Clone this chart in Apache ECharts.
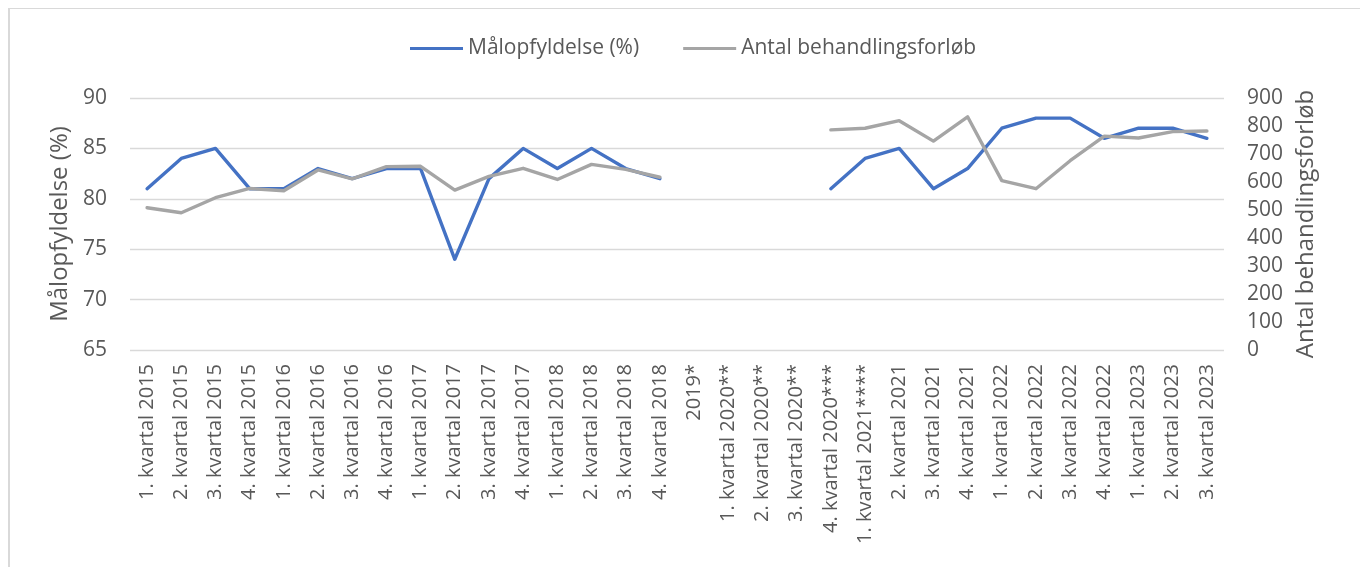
<!DOCTYPE html>
<html>
<head>
    <meta charset="utf-8">
    <script src="https://cdn.jsdelivr.net/npm/echarts@6/dist/echarts.min.js"></script>
    <style>
        html, body { margin: 0; padding: 0; background: #fff; }
        #frame {
            position: absolute;
            left: 8px;
            top: 8px;
            width: 1400px;
            height: 600px;
            border-left: 2px solid #d9d9d9;
            border-top: 1px solid #d9d9d9;
        }
        #main {
            position: absolute;
            left: 0;
            top: 0;
            width: 1360px;
            height: 567px;
        }
    </style>
</head>
<body>
<div id="frame"></div>
<div id="main"></div>
<script>
    // Kategorier (kvartaler)
    var categories = [
        '1. kvartal 2015', '2. kvartal 2015', '3. kvartal 2015', '4. kvartal 2015',
        '1. kvartal 2016', '2. kvartal 2016', '3. kvartal 2016', '4. kvartal 2016',
        '1. kvartal 2017', '2. kvartal 2017', '3. kvartal 2017', '4. kvartal 2017',
        '1. kvartal 2018', '2. kvartal 2018', '3. kvartal 2018', '4. kvartal 2018',
        '2019*',
        '1. kvartal 2020**', '2. kvartal 2020**', '3. kvartal 2020**', '4. kvartal 2020***',
        '1. kvartal 2021****', '2. kvartal 2021', '3. kvartal 2021', '4. kvartal 2021',
        '1. kvartal 2022', '2. kvartal 2022', '3. kvartal 2022', '4. kvartal 2022',
        '1. kvartal 2023', '2. kvartal 2023', '3. kvartal 2023'
    ];

    // Målopfyldelse (%) - venstre akse
    var malopfyldelse = [
        81, 84, 85, 81,
        81, 83, 82, 83,
        83, 74, 82, 85,
        83, 85, 83, 82,
        null,
        null, null, null, 81,
        84, 85, 81, 83,
        87, 88, 88, 86,
        87, 87, 86
    ];

    // Antal behandlingsforløb - højre akse
    var antalForlob = [
        508, 490, 544, 577,
        569, 643, 611, 655,
        656, 571, 620, 649,
        609, 663, 645, 617,
        null,
        null, null, null, 786,
        792, 819, 746, 833,
        605, 576, 676, 764,
        757, 780, 782
    ];

    var leftTicks = { min: 65, max: 90, interval: 5 };
    var rightTicks = { min: 0, max: 900, interval: 100 };

    var FONT = '"Open Sans"';
    var TXT = '#595959';

    var chart = echarts.init(document.getElementById('main'), null, { renderer: 'canvas' });

    var option = {
        backgroundColor: 'transparent',
        animation: false,
        textStyle: { fontFamily: FONT, color: TXT },
        legend: {
            top: 33,
            left: 405,
            itemWidth: 53,
            itemHeight: 3,
            itemGap: 44,
            icon: 'rect',
            textStyle: { fontFamily: FONT, fontSize: 21, color: TXT },
            data: ['Målopfyldelse (%)', 'Antal behandlingsforløb']
        },
        grid: {
            left: 130,
            right: 136,
            top: 98,
            bottom: 217,
            containLabel: false
        },
        xAxis: {
            type: 'category',
            data: categories,
            boundaryGap: true,
            axisLine: { show: false },
            axisTick: { show: false },
            axisLabel: {
                interval: 0,
                rotate: 90,
                margin: 14,
                fontFamily: FONT,
                fontSize: 20,
                color: TXT
            }
        },
        yAxis: [
            {
                type: 'value',
                min: leftTicks.min,
                max: leftTicks.max,
                interval: leftTicks.interval,
                name: 'Målopfyldelse (%)',
                nameLocation: 'middle',
                nameRotate: 90,
                nameGap: 56,
                nameTextStyle: { fontFamily: FONT, fontSize: 24, color: TXT },
                axisLine: { show: false },
                axisTick: { show: false },
                axisLabel: { fontFamily: FONT, fontSize: 21, color: TXT, margin: 23 },
                splitLine: { lineStyle: { color: '#d9d9d9', width: 1.3 } }
            },
            {
                type: 'value',
                min: rightTicks.min,
                max: rightTicks.max,
                interval: rightTicks.interval,
                name: 'Antal behandlingsforløb',
                nameLocation: 'middle',
                nameRotate: 90,
                nameGap: 70,
                nameTextStyle: { fontFamily: FONT, fontSize: 24, color: TXT },
                axisLine: { show: false },
                axisTick: { show: false },
                axisLabel: { fontFamily: FONT, fontSize: 21, color: TXT, margin: 23, align: 'left' },
                splitLine: { show: false }
            }
        ],
        series: [
            {
                name: 'Målopfyldelse (%)',
                type: 'line',
                yAxisIndex: 0,
                data: malopfyldelse,
                showSymbol: false,
                symbol: 'none',
                connectNulls: false,
                lineStyle: { color: '#4472C4', width: 3.4, cap: 'round', join: 'round' },
                itemStyle: { color: '#4472C4' }
            },
            {
                name: 'Antal behandlingsforløb',
                type: 'line',
                yAxisIndex: 1,
                data: antalForlob,
                showSymbol: false,
                symbol: 'none',
                connectNulls: false,
                lineStyle: { color: '#A5A5A5', width: 3.4, cap: 'round', join: 'round' },
                itemStyle: { color: '#A5A5A5' }
            }
        ]
    };

    chart.setOption(option);
</script>
</body>
</html>
